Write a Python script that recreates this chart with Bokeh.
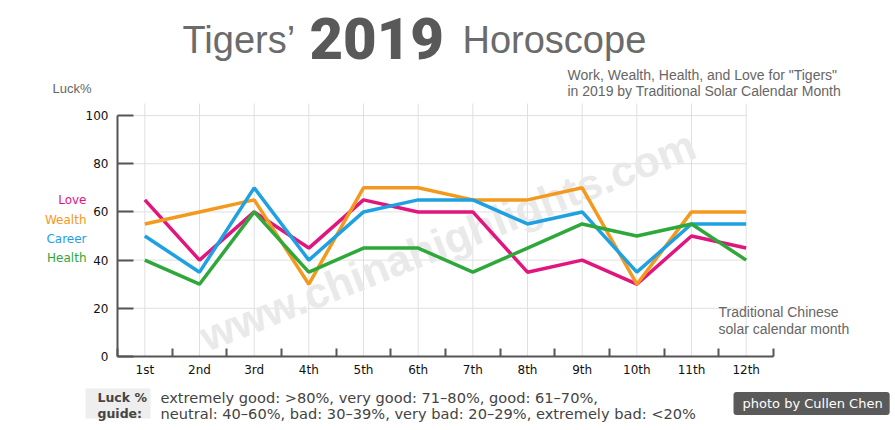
from bokeh.plotting import figure
from bokeh.models import Range1d, FixedTicker, Label, BoxAnnotation
from bokeh.embed import file_html
from bokeh.resources import INLINE

# ---------------- data ----------------
months = ["1st", "2nd", "3rd", "4th", "5th", "6th", "7th", "8th", "9th", "10th", "11th", "12th"]
love = [65, 40, 60, 45, 65, 60, 60, 35, 40, 30, 50, 45]
wealth = [55, 60, 65, 30, 70, 70, 65, 65, 70, 30, 60, 60]
career = [50, 35, 70, 40, 60, 65, 65, 55, 60, 35, 55, 55]
health = [40, 30, 60, 35, 45, 45, 35, 45, 55, 50, 55, 40]
y_ticks = [0, 20, 40, 60, 80, 100]
series_names = ["Love", "Wealth", "Career", "Health"]
series_colors = ["#e2157f", "#f39a1e", "#1ea1e2", "#2fa83b"]

# ---------------- layout (page pixels) ----------------
W, H = 895, 430
PL, PR, PT, PB = 117, 773, 103, 356   # plot area edges
Y_TOP = 105                           # value at the top of the plot area
xs = list(range(1, len(months) + 1))
x0v, x1v = 0.5, len(months) + 0.5
kx = (PR - PL) / (x1v - x0v)
ky = (PB - PT) / (Y_TOP - 0)

# the frame covers the whole canvas; axes are pinned with fixed_location
p = figure(width=W, height=H, output_backend="svg", toolbar_location=None,
           x_range=Range1d(x0v - PL / kx, x1v + (W - PR) / kx),
           y_range=Range1d(0 - (H - PB) / ky, Y_TOP + PT / ky),
           min_border=0)
p.outline_line_color = None
p.background_fill_color = "white"
p.border_fill_color = "white"
p.xgrid.visible = False
p.ygrid.visible = False

AX = "#555555"
# y axis
p.yaxis.fixed_location = x0v
p.yaxis.ticker = FixedTicker(ticks=y_ticks)
p.yaxis.bounds = (y_ticks[0], y_ticks[-1])
p.yaxis.axis_line_color = AX
p.yaxis.axis_line_width = 2
p.yaxis.major_tick_in = 16
p.yaxis.major_tick_out = 0
p.yaxis.major_tick_line_width = 2
p.yaxis.major_tick_line_color = AX
p.yaxis.minor_tick_line_color = None
p.yaxis.major_label_text_font = "DejaVu Sans"
p.yaxis.major_label_text_font_size = "12px"
p.yaxis.major_label_text_color = "#111111"
p.yaxis.major_label_standoff = 9

# x axis
p.xaxis.fixed_location = 0
p.xaxis.ticker = FixedTicker(ticks=xs, minor_ticks=[v + 0.5 for v in range(0, len(months) + 1)])
p.xaxis.bounds = (x0v, x1v)
p.xaxis.major_label_overrides = {v: m for v, m in zip(xs, months)}
p.xaxis.axis_line_color = AX
p.xaxis.axis_line_width = 2
p.xaxis.major_tick_in = 0
p.xaxis.major_tick_out = 0
p.xaxis.minor_tick_in = 8
p.xaxis.minor_tick_out = 0
p.xaxis.minor_tick_line_width = 2
p.xaxis.minor_tick_line_color = AX
p.xaxis.major_label_text_font = "DejaVu Sans"
p.xaxis.major_label_text_font_size = "12px"
p.xaxis.major_label_text_color = "#111111"
p.xaxis.major_label_standoff = 6

# grid lines
GRID = "#e0e0e0"
p.segment(x0=xs, x1=xs, y0=[0] * len(xs), y1=[Y_TOP] * len(xs),
          line_color=GRID, line_width=1, level="underlay")
p.segment(x0=[x0v] * (len(y_ticks) - 1), x1=[xs[-1]] * (len(y_ticks) - 1),
          y0=y_ticks[1:], y1=y_ticks[1:], line_color=GRID, line_width=1, level="underlay")


def lab(text, xr, yr, size, color, font="Liberation Sans", style="normal",
        align="left", baseline="middle", **kw):
    l = Label(x=xr, y=H - yr, x_units="screen", y_units="screen", text=text,
              text_font=font, text_font_size=size, text_color=color,
              text_font_style=style, text_align=align, text_baseline=baseline, **kw)
    p.add_layout(l)
    return l


# watermark
lab("www.chinahighlights.com", 447, 240, "43px", "#e9e9e9", font="Liberation Sans",
    style="bold", align="center", baseline="middle", angle=0.378, level="underlay")

# series lines
for vals, c in zip([love, wealth, career, health], series_colors):
    p.line(xs, vals, line_color=c, line_width=3.5)

# series labels on the left
for name, c, yr in zip(series_names, series_colors, [199, 219, 238, 257]):
    lab(name, 86, yr, "12px", c, font="DejaVu Sans", align="right")

# title
lab("Tigers\u2019", 182, 39, "38px", "#6b6b6b")
lab("2019", 309, 38, "58px", "#595959", font="Roboto Black", style="bold")
lab("Horoscope", 462, 39, "38px", "#6b6b6b")

# subtitle
lab('Work, Wealth, Health, and Love for "Tigers"', 567, 74, "14px", "#666666")
lab("in 2019 by Traditional Solar Calendar Month", 567, 90, "14px", "#666666")

lab("Luck%", 52, 88, "13px", "#666666")
lab("Traditional Chinese", 718, 311, "14px", "#666666")
lab("solar calendar month", 718, 328, "14px", "#666666")

# guide
p.add_layout(BoxAnnotation(left=85, right=150, top=H - 388, bottom=H - 418,
                           left_units="screen", right_units="screen", top_units="screen",
                           bottom_units="screen", fill_color="#eeeeee", fill_alpha=1,
                           line_color=None, level="underlay"))
lab("Luck %", 97, 397, "12.5px", "#444444", font="DejaVu Sans", style="bold")
lab("guide:", 97, 413, "12.5px", "#444444", font="DejaVu Sans", style="bold")
lab("extremely good: >80%, very good: 71\u201380%, good: 61\u201370%,", 160, 397, "14.6px",
    "#444444", font="DejaVu Sans")
lab("neutral: 40\u201360%, bad: 30\u201339%, very bad: 20\u201329%, extremely bad: <20%", 160, 413,
    "14.6px", "#444444", font="DejaVu Sans")

# photo credit
lab("photo by Cullen Chen", 733, 403, "13px", "#ffffff", font="DejaVu Sans",
    background_fill_color="#5a5a5a", padding=dict(left=9, right=7, top=4, bottom=4),
    border_radius=3)

open("out.html", "w").write(file_html(p, INLINE))
